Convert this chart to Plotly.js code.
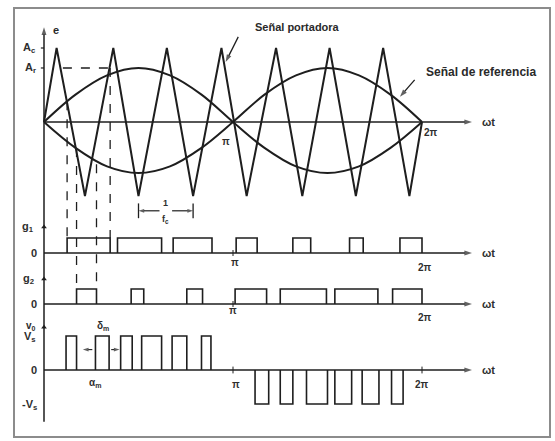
<!DOCTYPE html>
<html><head><meta charset="utf-8">
<script src="https://cdn.plot.ly/plotly-3.0.1.min.js"></script>
<style>html,body{margin:0;padding:0;background:#fff}</style>
</head><body><div id="chart" style="width:555px;height:441px"></div>
<script>
// ---- data (ωt in degrees) ----
// carrier (triangle) vertices, amplitude in units of A_c
const carrierX = [0, 12, 39, 66, 90, 117, 142, 169, 193, 221, 246, 272, 297, 323, 348, 360];
const carrierY = [0, 1, -1, 1, -1, 1, -1, 1, -1, 1, -1, 1, -1, 1, -1, 0];
// reference signal and its inverse (read points)
const refX    = [0, 30, 60, 90, 120, 150, 180, 210, 240, 270, 300, 330, 360];
const refY    = [0, 0.37, 0.63, 0.73, 0.63, 0.37, 0, -0.35, -0.60, -0.69, -0.60, -0.35, 0];
const refInvY = [0, -0.35, -0.60, -0.69, -0.60, -0.35, 0, 0.37, 0.63, 0.73, 0.63, 0.37, 0];
const Ac = 1, Ar = 0.73;
// gate signal g1 pulses
const g1Start = [22, 70, 123, 183, 237, 291, 339];
const g1End   = [63, 112, 160, 203, 254, 304, 360];
// gate signal g2 pulses
const g2Start = [31, 83, 136, 182, 225, 277, 332];
const g2End   = [50, 95, 151, 212, 269, 318, 360];
// output voltage pulses (+Vs and -Vs)
const voPosStart = [21, 49, 73, 93, 122, 150];
const voPosEnd   = [31, 62, 84, 112, 136, 159];
const voNegStart = [201, 225, 250, 277, 303, 331];
const voNegEnd   = [214, 237, 270, 293, 319, 342];
const Vs = 1;
// guide (dashed) lines: x and start level on top panel
const guideX = [g1Start[0], g2Start[0], g2End[0], g1End[0]];
const guideTop = [0.28, -0.35, -0.57, Ar];
const guidePanel = ['g1', 'g2', 'g2', 'g1'];

// ---- layout geometry ----
const W = 555, H = 441;
const X0PX = 44, PXPERDEG = 1.05;
const xr = [-X0PX / PXPERDEG, (W - X0PX) / PXPERDEG];
const panels = {
  top: {p0: 122, u: 74},
  g1:  {p0: 253, u: 15},
  g2:  {p0: 304, u: 15},
  vo:  {p0: 370, u: 34}
};
function yr(p) { return [-(H - p.p0) / p.u, p.p0 / p.u]; }
function paperY(p, v) { return 1 - (p.p0 - v * p.u) / H; }

const LC = '#1e1e1e';
function pulses(starts, ends, h) {
  const xs = [], ys = [];
  for (let i = 0; i < starts.length; i++) {
    xs.push(starts[i], starts[i], ends[i], ends[i], null);
    ys.push(0, h, h, 0, null);
  }
  return {xs, ys};
}
const pg1 = pulses(g1Start, g1End, 1);
const pg2 = pulses(g2Start, g2End, 1);
const pvp = pulses(voPosStart, voPosEnd, Vs);
const pvn = pulses(voNegStart, voNegEnd, -Vs);

const traces = [
  {x: carrierX, y: carrierY, mode: 'lines', line: {color: LC, width: 2}, xaxis: 'x', yaxis: 'y'},
  {x: refX, y: refY, mode: 'lines', line: {color: LC, width: 2, shape: 'spline'}, xaxis: 'x', yaxis: 'y'},
  {x: refX, y: refInvY, mode: 'lines', line: {color: LC, width: 2, shape: 'spline'}, xaxis: 'x', yaxis: 'y'},
  {x: pg1.xs, y: pg1.ys, mode: 'lines', line: {color: LC, width: 1.6}, xaxis: 'x', yaxis: 'y2'},
  {x: pg2.xs, y: pg2.ys, mode: 'lines', line: {color: LC, width: 1.6}, xaxis: 'x', yaxis: 'y3'},
  {x: pvp.xs.concat(pvn.xs), y: pvp.ys.concat(pvn.ys), mode: 'lines', line: {color: LC, width: 1.6}, xaxis: 'x', yaxis: 'y4'},
  // small arrowheads on the vertical axis for each lower panel
  {x: [0], y: [1.73], mode: 'markers', marker: {symbol: 'triangle-up', size: 5, color: LC}, xaxis: 'x', yaxis: 'y2'},
  {x: [0], y: [1.67], mode: 'markers', marker: {symbol: 'triangle-up', size: 5, color: LC}, xaxis: 'x', yaxis: 'y3'},
  {x: [0], y: [1.26], mode: 'markers', marker: {symbol: 'triangle-up', size: 5, color: LC}, xaxis: 'x', yaxis: 'y4'}
];

// arrows drawn as line traces with an oriented arrow marker at the head
function arrow(yref, x, y, ax, ay, w, sz) {
  traces.push({x: [ax, x], y: [ay, y], mode: 'lines+markers', xaxis: 'x', yaxis: yref,
    line: {color: LC, width: w || 1.4},
    marker: {symbol: 'arrow', angleref: 'previous', size: [0, sz || 8], color: LC, line: {width: 0}}});
}

const FAM = 'Liberation Sans, Arial, sans-serif';
const F = {family: FAM, size: 11, color: '#2e2e2e', weight: 'bold'};
const FS = {family: FAM, size: 10, color: '#2e2e2e', weight: 'bold'};
const FB = {family: FAM, size: 11, color: '#2a2a2a', weight: 'bold'};
const ann = [];
function label(yref, x, y, text, opts) {
  ann.push(Object.assign({xref: 'x', yref: yref.replace('y', 'y'), x: x, y: y, text: text, showarrow: false, font: F,
    xanchor: 'center', yanchor: 'middle'}, opts || {}));
}
const xEnd = (472 - X0PX) / PXPERDEG;
const tx = (480 - X0PX) / PXPERDEG;

// top panel
arrow('y', xEnd, 0, 0, 0, 1.5);
arrow('y', 0, 1.28, 0, -4.05, 1.5);
label('y', 0, Ac, 'A<sub>c</sub>', {xanchor: 'right', xshift: -6});
label('y', 0, Ar, 'A<sub>r</sub>', {xanchor: 'right', xshift: -6});
label('y', 11, 1.25, 'e', {font: FB});
label('y', 241, 1.28, 'Señal portadora', {font: FB});
arrow('y', 173, 0.81, 185, 1.15, 1.3);
label('y', 362, 0.68, 'Señal de referencia', {font: Object.assign({}, FB, {size: 12}), xanchor: 'left'});
arrow('y', 339, 0.34, 353, 0.57, 1.3);
label('y', tx, 0, 'ωt', {xanchor: 'left'});
label('y', 369, -0.14, '2π', {font: FS});
label('y', 173, -0.26, 'π', {font: FS});
// 1/fc marker
const fcA = carrierX[4], fcB = carrierX[6];
arrow('y', fcA, -1.2, (fcA + fcB) / 2 - 6, -1.2, 1.2, 6);
arrow('y', fcB, -1.2, (fcA + fcB) / 2 + 6, -1.2, 1.2, 6);
label('y', (fcA + fcB) / 2, -1.1, '1', {font: Object.assign({}, FS, {size: 9})});
label('y', (fcA + fcB) / 2, -1.32, 'f<sub>c</sub>', {font: Object.assign({}, FS, {size: 9})});

// g1 panel
arrow('y2', xEnd, 0, 0, 0, 1.5);
label('y2', 0, 1.73, 'g<sub>1</sub>', {xanchor: 'right', xshift: -8});
label('y2', 0, 0, '0', {xanchor: 'right', xshift: -5});
label('y2', 182, -0.6, 'π', {font: FS});
label('y2', 363, -0.95, '2π', {font: FS});
label('y2', tx, 0, 'ωt', {xanchor: 'left'});
// g2 panel
arrow('y3', xEnd, 0, 0, 0, 1.5);
label('y3', 0, 1.67, 'g<sub>2</sub>', {xanchor: 'right', xshift: -8});
label('y3', 0, 0, '0', {xanchor: 'right', xshift: -5});
label('y3', 180, -0.45, 'π', {font: FS});
label('y3', 363, -0.9, '2π', {font: FS});
label('y3', tx, 0, 'ωt', {xanchor: 'left'});
// vo panel
arrow('y4', xEnd, 0, 0, 0, 1.5);
label('y4', 0, 1.28, 'v<sub>0</sub>', {xanchor: 'right', xshift: -6, font: FS});
label('y4', 0, 0.97, 'V<sub>s</sub>', {xanchor: 'right', xshift: -6});
label('y4', 0, 0, '0', {xanchor: 'right', xshift: -5});
label('y4', 0, -1.03, '-V<sub>s</sub>', {xanchor: 'right', xshift: -5});
label('y4', 183, -0.42, 'π', {font: FS});
label('y4', 360, -0.42, '2π', {font: FS});
label('y4', tx, 0, 'ωt', {xanchor: 'left'});
label('y4', 48.6, -0.38, 'α<sub>m</sub>', {font: FS});
label('y4', 56, 1.3, 'δ<sub>m</sub>', {font: FS});
arrow('y4', 37, 0.6, 46, 0.6, 1.1, 6);
arrow('y4', 72, 0.6, 64, 0.6, 1.1, 6);

// shapes
const shapes = [];
// frame
shapes.push({type: 'rect', xref: 'paper', yref: 'paper', x0: 14 / W, x1: 550 / W, y0: 1 - 437 / H, y1: 1 - 8 / H,
  line: {color: '#8c8c8c', width: 2}});
// A_r dashed horizontal
shapes.push({type: 'line', xref: 'x', yref: 'y', x0: 18, x1: g1End[0], y0: Ar, y1: Ar, line: {color: LC, width: 1.3, dash: 'dash'}});
// ticks on top vertical axis
[Ac, Ar].forEach(v => shapes.push({type: 'line', xref: 'x', yref: 'y', x0: -3, x1: 0, y0: v, y1: v, line: {color: LC, width: 1.2}}));
// 1/fc end bars
[fcA, fcB].forEach(v => shapes.push({type: 'line', xref: 'x', yref: 'y', x0: v, x1: v, y0: -1.1, y1: -1.3, line: {color: LC, width: 1.3}}));
// guide dashed verticals
for (let i = 0; i < guideX.length; i++) {
  shapes.push({type: 'line', xref: 'x', yref: 'paper', x0: guideX[i], x1: guideX[i],
    y0: paperY(panels.top, guideTop[i]), y1: paperY(panels[guidePanel[i]], 1),
    line: {color: LC, width: 1.3, dash: 'dash'}});
}
// pi ticks on lower axes
shapes.push({type: 'line', xref: 'x', yref: 'y2', x0: 180, x1: 180, y0: -0.2, y1: 0.2, line: {color: LC, width: 1}});
shapes.push({type: 'line', xref: 'x', yref: 'y3', x0: 180, x1: 180, y0: -0.2, y1: 0.2, line: {color: LC, width: 1}});
shapes.push({type: 'line', xref: 'x', yref: 'y4', x0: 180, x1: 180, y0: -0.1, y1: 0.1, line: {color: LC, width: 1}});
shapes.push({type: 'line', xref: 'x', yref: 'y4', x0: 360, x1: 360, y0: -0.1, y1: 0.1, line: {color: LC, width: 1}});

const hidden = {showgrid: false, zeroline: false, showticklabels: false, ticks: '', showline: false, fixedrange: true};
const layout = {
  width: W, height: H, autosize: false,
  margin: {l: 0, r: 0, t: 0, b: 0, pad: 0},
  paper_bgcolor: '#fff', plot_bgcolor: '#fff',
  showlegend: false,
  xaxis: Object.assign({range: xr, domain: [0, 1]}, hidden),
  yaxis: Object.assign({range: yr(panels.top), domain: [0, 1]}, hidden),
  yaxis2: Object.assign({range: yr(panels.g1), overlaying: 'y'}, hidden),
  yaxis3: Object.assign({range: yr(panels.g2), overlaying: 'y'}, hidden),
  yaxis4: Object.assign({range: yr(panels.vo), overlaying: 'y'}, hidden),
  annotations: ann,
  shapes: shapes
};
Plotly.newPlot('chart', traces, layout, {displayModeBar: false, staticPlot: true});
</script>
</body></html>
